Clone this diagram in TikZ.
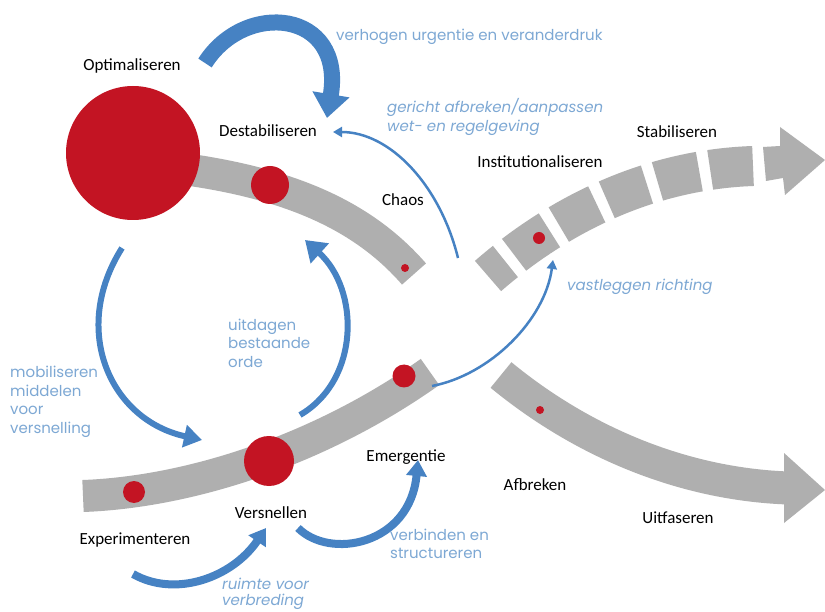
\documentclass[tikz,border=0pt]{standalone}
\usepackage{fontspec}
\setmainfont{Carlito}
\newfontfamily\gothic{Poppins}
\usepackage{tikz}
\usetikzlibrary{positioning, arrows.meta}

\definecolor{flowblue}{RGB}{70,130,195}
\definecolor{labelblue}{RGB}{125,168,212}
\definecolor{dotred}{RGB}{195,20,35}
\definecolor{bandgrey}{RGB}{175,175,175}

\begin{document}
\begin{tikzpicture}[x=1pt, y=-1pt,
    phase/.style={font=\fontsize{17}{20}\selectfont, inner sep=0pt},
    action/.style={font=\gothic\fontsize{15}{18.5}\selectfont, text=labelblue, align=left, anchor=west, inner sep=0pt},
    slanted/.style={font=\gothic\itshape\fontsize{15}{#1}\selectfont},
    dot/.style={circle, fill=dotred, inner sep=0pt, minimum size=#1},
    band/.style={draw=bandgrey, line width=#1},
    flow/.style={draw=flowblue, line width=#1}]
    \fill[white] (0,0) rectangle (825,612);
    \useasboundingbox (0,0) rectangle (825,612);

    % grey trajectories
    \coordinate (optStart) at (150,165);
    \coordinate (chaosEnd) at (414,274);
    \draw[band=32] (optStart) .. controls (280,178) and (360,212) .. (chaosEnd);
    \coordinate (expStart) at (83,496);
    \coordinate (emEnd) at (430,372);
    \draw[band=32] (expStart) .. controls (190,492) and (320,450) .. (emEnd);
    \coordinate (stabEnd) at (753,166);
    \coordinate (instStart) at (488,276);
    \draw[band=40, dash pattern=on 43pt off 11pt] (stabEnd) .. controls (640,170) and (550,222) .. (instStart);
    \fill[bandgrey] (763,147) -- (780,146) -- (780,127) -- (825,160) -- (785,195) -- (783,178) -- (766,181) -- cycle;
    \coordinate (fadeStart) at (501,375);
    \coordinate (fadeEnd) at (788,488);
    \draw[band=33] (fadeStart) .. controls (580,440) and (680,484) .. (fadeEnd);
    \fill[bandgrey] (784,453) -- (825,490) -- (784,523) -- cycle;

    % red dots
    \node[dot=134pt] (opt) at (133,153) {};
    \node[dot=38pt] (destab) at (270,185) {};
    \node[dot=8pt] (chaosdot) at (405,268) {};
    \node[dot=12pt] (instdot) at (539,238) {};
    \node[dot=23pt] (emdot) at (404,376) {};
    \node[dot=50pt] (versn) at (269,461) {};
    \node[dot=22pt] (expdot) at (134,492) {};
    \node[dot=8pt] (afbrdot) at (540,410) {};

    % phases
    \node[phase] (lOpt) at (132,66) {Optimaliseren};
    \node[phase] (lDestab) at (268,131) {Destabiliseren};
    \node[phase] (lChaos) at (403,200) {Chaos};
    \node[phase] (lInst) at (540,162) {Institutionaliseren};
    \node[phase] (lStab) at (677,132) {Stabiliseren};
    \node[phase] (lEm) at (406,457) {Emergentie};
    \node[phase] (lAfbr) at (535,485) {Afbreken};
    \node[phase] (lUitf) at (678,518) {Uitfaseren};
    \node[phase] (lVersn) at (271,513) {Versnellen};
    \node[phase] (lExp) at (135,540) {Experimenteren};

    % actions
    \node[action] (aUrg) at (336,37) {verhogen urgentie en veranderdruk};
    \node[action, slanted=19] (aWet) at (387,117) {gericht afbreken/aanpassen\\wet- en regelgeving};
    \node[action, slanted=18.5] (aRicht) at (567,287) {vastleggen richting};
    \node[action] (aOrde) at (228,343) {uitdagen\\bestaande\\orde};
    \node[action] (aMob) at (10,402) {mobiliseren\\middelen\\voor\\versnelling};
    \node[action] (aVerb) at (390,544) {verbinden en\\structureren};
    \node[action, slanted=16] (aRuimte) at (222,594) {ruimte voor\\verbreding};

    % blue arrows
    \coordinate (urgTail) at (205,63);
    \coordinate (urgHead) at (327,118);
    \draw[flow=16, -{Triangle[width=36pt,length=24pt]}] (urgTail) .. controls (245,0) and (345,10) .. (urgHead);
    \coordinate (wetTail) at (458,258);
    \coordinate (wetHead) at (333,132);
    \draw[flow=2.5, -{Triangle[width=10pt,length=9pt]}] (wetTail) .. controls (440,185) and (390,132) .. (wetHead);
    \coordinate (mobTail) at (122,248);
    \coordinate (mobHead) at (202,440);
    \draw[flow=6, -{Triangle[width=22pt,length=18pt]}] (mobTail) .. controls (70,330) and (110,420) .. (mobHead);
    \coordinate (ordeTail) at (300,415);
    \coordinate (ordeHead) at (305,240);
    \draw[flow=6, -{Triangle[width=26pt,length=20pt]}] (ordeTail) .. controls (360,380) and (360,290) .. (ordeHead);
    \coordinate (richtTail) at (432,386);
    \coordinate (richtHead) at (553,260);
    \draw[flow=2.5, -{Triangle[width=10pt,length=9pt]}] (richtTail) .. controls (490,375) and (545,320) .. (richtHead);
    \coordinate (verbTail) at (298,528);
    \coordinate (verbHead) at (418,460);
    \draw[flow=8, -{Triangle[width=20pt,length=16pt]}] (verbTail) .. controls (330,560) and (410,545) .. (verbHead);
    \coordinate (ruimteTail) at (133,574);
    \coordinate (ruimteHead) at (266,528);
    \draw[flow=8, -{Triangle[width=20pt,length=16pt]}] (ruimteTail) .. controls (175,598) and (232,578) .. (ruimteHead);
\end{tikzpicture}
\end{document}
